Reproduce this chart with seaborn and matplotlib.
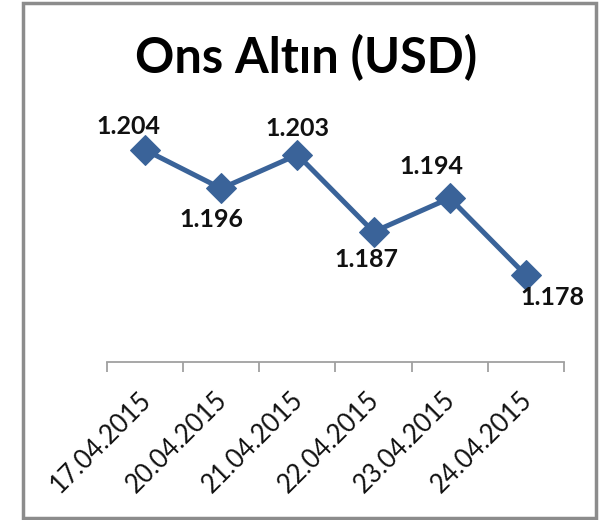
import matplotlib
matplotlib.use("Agg")
import matplotlib.pyplot as plt
import seaborn as sns
import pandas as pd
from matplotlib.patches import Rectangle
from matplotlib.ticker import FixedLocator
from matplotlib.transforms import ScaledTranslation

dates = ["17.04.2015", "20.04.2015", "21.04.2015", "22.04.2015", "23.04.2015", "24.04.2015"]
values = [1204, 1196, 1203, 1187, 1194, 1178]
title = "Ons Altın (USD)"

sns.set_style("white")
plt.rcParams['font.family'] = ['Lato', 'DejaVu Sans']

df = pd.DataFrame({"date": dates, "value": values})

fig = plt.figure(figsize=(6.12, 5.2), dpi=100)
ax = fig.add_axes([107/612, 158/520, 457/612, 241/520])
color = "#3A6399"
sns.lineplot(data=df, x="date", y="value", ax=ax, color=color, linewidth=3.6,
             marker="D", markersize=15, markeredgecolor=color, sort=False)
ax.set_ylim(1160, 1210)
ax.set_xlim(-0.5, len(dates) - 0.5)
ax.set_xlabel("")
ax.set_ylabel("")
ax.set_yticks([])
for s in ["top", "left", "right"]:
    ax.spines[s].set_visible(False)
ax.spines["bottom"].set_color("#A0A0A0")
ax.spines["bottom"].set_linewidth(1.3)

ax.set_xticks(range(len(dates)))
ax.set_xticklabels(dates, rotation=45, ha="right", rotation_mode="anchor", fontsize=18.5, color="#111111")
ax.xaxis.set_minor_locator(FixedLocator([i - 0.5 for i in range(len(dates) + 1)]))
ax.tick_params(axis="x", which="major", bottom=True, length=0, pad=18)
ax.tick_params(axis="x", which="minor", bottom=True, length=7, width=1.3, color="#A0A0A0", direction="out")
off = ScaledTranslation(-5/72, 0, fig.dpi_scale_trans)
for lab in ax.get_xticklabels():
    lab.set_transform(lab.get_transform() + off)

offsets = [(-12, 17), (-7, -22), (0, 19), (-5, -20), (-13, 23), (19, -16)]
for i, (v, (dx, dy)) in enumerate(zip(values, offsets)):
    txt = f"{v:,}".replace(",", ".")
    ax.annotate(txt, (i, v), xytext=(dx, dy), textcoords="offset points",
                ha="center", va="center", fontsize=18, fontweight="bold", color="#111111")

fig.text(0.5, 1 - 58/520, title, ha="center", va="center", fontsize=35, fontweight="bold", color="#000000")

fig.patches.append(Rectangle((23/612, 2/520), 573/612, 515/520, transform=fig.transFigure,
                             fill=False, edgecolor="#8C8C8C", linewidth=2.5))

fig.savefig("out.png", dpi=100)
